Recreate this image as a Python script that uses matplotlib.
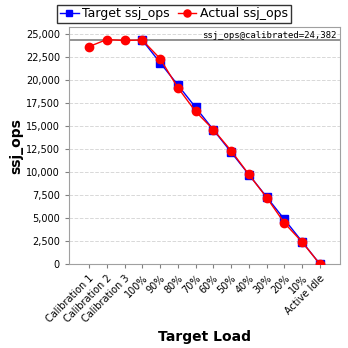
import matplotlib
matplotlib.use("Agg")
import matplotlib.pyplot as plt
from matplotlib.ticker import FuncFormatter

LABELS = ["Calibration 1", "Calibration 2", "Calibration 3", "100%", "90%", "80%",
          "70%", "60%", "50%", "40%", "30%", "20%", "10%", "Active Idle"]
# target exists only from 100% on
TARGET = [None, None, None, 24382, 21944, 19506, 17067, 14629, 12191, 9753,
          7315, 4876, 2438, 0]
ACTUAL = [23680, 24450, 24350, 24400, 22380, 19220, 16620, 14650, 12350, 9760,
          7250, 4480, 2400, 0]
CALIBRATED = 24382

fig = plt.figure(figsize=(3.48, 3.48), dpi=100)
ax = fig.add_axes([0.198, 0.241, 0.779, 0.681])

x = list(range(len(LABELS)))
tx = [i for i, v in zip(x, TARGET) if v is not None]
ty = [v for v in TARGET if v is not None]
ax.plot(tx, ty, "-s", color="#0000ff", ms=5.5, lw=1, label="Target ssj_ops", zorder=3)
ax.plot(x, ACTUAL, "-o", color="#ff0000", ms=6, lw=1, label="Actual ssj_ops", zorder=4)
ax.axhline(CALIBRATED, color="#808080", lw=1.2, zorder=2)
ax.text(0.985, 0.985, f"ssj_ops@calibrated={CALIBRATED:,}", transform=ax.transAxes,
        ha="right", va="top", fontsize=6.5, family="DejaVu Sans Mono")

ax.set_xlim(-1.13, 14.13)
ax.set_ylim(0, 25800)
ax.set_yticks(range(0, 25001, 2500))
ax.yaxis.set_major_formatter(FuncFormatter(lambda v, p: f"{int(v):,}"))
ax.set_xticks(x)
ax.set_xticklabels(LABELS, rotation=45, ha="right", rotation_mode="anchor")
ax.tick_params(labelsize=7, length=3, color="#808080")
ax.grid(axis="y", ls="--", color="#d8d8d8", lw=0.7)
for s in ax.spines.values():
    s.set_color("#a0a0a0")

ax.set_ylabel("ssj_ops", fontsize=10, fontweight="bold", labelpad=2)
ax.set_xlabel("Target Load", fontsize=10, fontweight="bold")

leg = fig.legend(loc="upper center", bbox_to_anchor=(0.5, 1.005), ncol=2, fontsize=9,
                 frameon=True, fancybox=False, edgecolor="black",
                 handlelength=1.5, handletextpad=0.3, columnspacing=0.6,
                 borderpad=0.2, markerscale=0.85)
leg.get_frame().set_linewidth(1.0)

fig.savefig("out.png", dpi=100)
